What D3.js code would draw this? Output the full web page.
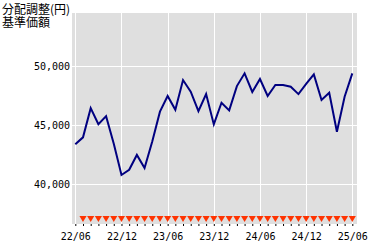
<!DOCTYPE html>
<html>
<head>
<meta charset="utf-8">
<script src="https://cdn.jsdelivr.net/npm/d3@7"></script>
<style>
  body { margin: 0; background: #fff; }
  .axis text { font-family: "DejaVu Sans Mono", monospace; font-size: 10px; fill: #000; }
  .title { font-family: "Noto Sans CJK JP", sans-serif; font-size: 12px; fill: #000; }
</style>
</head>
<body>
<script>
// Monthly months shown on the chart
var months = ["22/06","22/07","22/08","22/09","22/10","22/11","22/12",
  "23/01","23/02","23/03","23/04","23/05","23/06","23/07","23/08","23/09","23/10","23/11","23/12",
  "24/01","24/02","24/03","24/04","24/05","24/06","24/07","24/08","24/09","24/10","24/11","24/12",
  "25/01","25/02","25/03","25/04","25/05","25/06"];

// Adjusted NAV (yen)
var nav = [43360, 43950, 46430, 45070, 45750, 43400, 40760,
  41200, 42460, 41350, 43590, 46130, 47460, 46290, 48810, 47820, 46170, 47630, 45050,
  46890, 46240, 48300, 49380, 47800, 48900, 47460, 48390, 48390, 48250, 47620, 48480,
  49290, 47120, 47740, 44430, 47400, 49380];

// Months with a distribution marker
var distMonths = months.slice(1);

// Tick labels
var xTickLabels = ["22/06","22/12","23/06","23/12","24/06","24/12","25/06"];
var yTicks = [40000, 45000, 50000];
var titleLines = ["分配調整(円)", "基準価額"];

// Page dimensions
var W = 380, H = 250;
var plot = { left: 72, right: 357, top: 13, bottom: 224 };

var svg = d3.select("body").append("svg")
  .attr("width", W)
  .attr("height", H);

// Scales
var x = d3.scaleLinear()
  .domain([-0.43, months.length - 1 + 0.61])
  .range([plot.left, plot.right]);

var y = d3.scaleLinear()
  .domain([36600, 54500])
  .range([plot.bottom, plot.top]);

// Background
svg.append("rect")
  .attr("x", plot.left)
  .attr("y", plot.top)
  .attr("width", plot.right - plot.left)
  .attr("height", plot.bottom - plot.top)
  .attr("fill", "#dfdfdf");

// Grid lines
svg.selectAll(".hgrid")
  .data(yTicks)
  .enter().append("line")
  .attr("x1", plot.left).attr("x2", plot.right)
  .attr("y1", function(d) { return Math.round(y(d)) + 0.5; })
  .attr("y2", function(d) { return Math.round(y(d)) + 0.5; })
  .attr("stroke", "#fff");

svg.selectAll(".vgrid")
  .data(xTickLabels)
  .enter().append("line")
  .attr("x1", function(d) { return Math.round(x(months.indexOf(d))) + 0.5; })
  .attr("x2", function(d) { return Math.round(x(months.indexOf(d))) + 0.5; })
  .attr("y1", plot.top).attr("y2", plot.bottom)
  .attr("stroke", "#fff");

// NAV line
var line = d3.line()
  .x(function(d, i) { return x(i); })
  .y(function(d) { return y(d); });

svg.append("path")
  .attr("d", line(nav))
  .attr("fill", "none")
  .attr("stroke", "#000080")
  .attr("stroke-width", 2);

// Distribution markers (down triangles at the bottom)
var tri = d3.symbol().type(d3.symbolTriangle).size(22);
svg.selectAll(".dist")
  .data(distMonths)
  .enter().append("path")
  .attr("d", tri)
  .attr("fill", "#ff3300")
  .attr("transform", function(d) {
    return "translate(" + x(months.indexOf(d)) + "," + (plot.bottom - 6) + ") rotate(180)";
  });

// Axes
var yAxis = d3.axisLeft(y)
  .tickValues(yTicks)
  .tickFormat(d3.format(","))
  .tickSize(0)
  .tickPadding(2);

svg.append("g")
  .attr("class", "axis")
  .attr("transform", "translate(" + plot.left + ",0)")
  .call(yAxis)
  .call(function(g) { g.select(".domain").remove(); });

var xAxis = d3.axisBottom(x)
  .tickValues(d3.range(months.length))
  .tickFormat(function(i) { return xTickLabels.indexOf(months[i]) >= 0 ? months[i] : ""; })
  .tickSize(2)
  .tickPadding(7);

svg.append("g")
  .attr("class", "axis")
  .attr("transform", "translate(0," + plot.bottom + ")")
  .call(xAxis)
  .call(function(g) {
    g.select(".domain").remove();
    g.selectAll(".tick line").attr("stroke", "#000");
  });

// Title (two lines in one text)
var title = svg.append("text").attr("class", "title");
title.selectAll("tspan")
  .data(titleLines)
  .enter().append("tspan")
  .attr("x", 2)
  .attr("y", function(d, i) { return 14 + i * 12.5; })
  .text(function(d) { return d; });
</script>
</body>
</html>
